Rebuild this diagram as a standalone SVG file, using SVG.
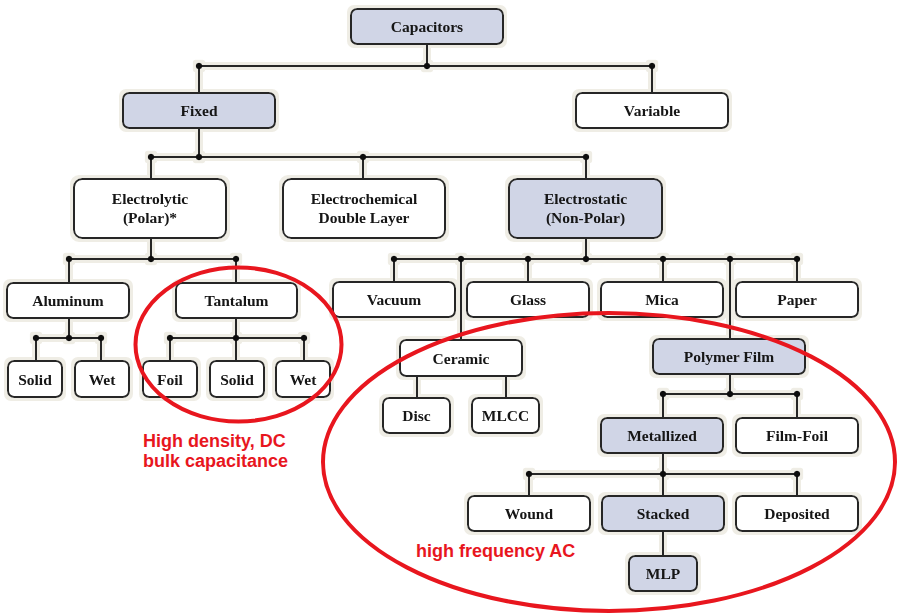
<svg xmlns="http://www.w3.org/2000/svg" width="897" height="614" viewBox="0 0 897 614">
<defs>
<filter id="halo" x="-5%" y="-5%" width="110%" height="110%">
<feMorphology in="SourceAlpha" operator="dilate" radius="3" result="d"/>
<feFlood flood-color="#efede5"/>
<feComposite in2="d" operator="in" result="h"/>
<feMerge><feMergeNode in="h"/><feMergeNode in="SourceGraphic"/></feMerge>
</filter>
</defs>
<style>
.n rect{stroke:#262626;stroke-width:2;fill:#ffffff}
.b rect{fill:#d0d5e6}
.n text{font-family:"Liberation Serif","Times New Roman",serif;font-weight:bold;font-size:15.5px;fill:#141414;text-anchor:middle}
#connectors path{stroke:#262626;stroke-width:2;fill:none}
#connectors circle{fill:#111}
.red{fill:none;stroke:#e8161e;stroke-width:4}
.note{font-family:"Liberation Sans",Arial,sans-serif;font-weight:bold;font-size:18px;fill:#e8161e}
</style>
<rect width="897" height="614" fill="#ffffff"/>
<g filter="url(#halo)">
<g id="connectors">
<path d="M427 44V66M199 66H652M199 66V93M652 66V93"/>
<path d="M199 128V157M151 157H586M151 157V179M363 157V179M586 157V179"/>
<path d="M151 238V259M69 259H236M69 259V283M236 259V283"/>
<path d="M69 318V338M36 338H101M36 338V361M101 338V361"/>
<path d="M236 318V338M170 338H304M170 338V361M236 338V361M304 338V361"/>
<path d="M586 238V259M394 259H797M394 259V282M461 259V340M528 259V282M663 259V282M730 259V339M797 259V282"/>
<path d="M417 376V398M506 376V398"/>
<path d="M730 374V394M663 394H797M663 394V418M797 394V418"/>
<path d="M663 453V496M529 474H797M529 474V496M797 474V496"/>
<path d="M663 531V556"/>
<circle cx="199" cy="66" r="3.2"/><circle cx="427" cy="66" r="3.2"/><circle cx="652" cy="66" r="3.2"/>
<circle cx="151" cy="157" r="3.2"/><circle cx="199" cy="157" r="3.2"/><circle cx="363" cy="157" r="3.2"/><circle cx="586" cy="157" r="3.2"/>
<circle cx="69" cy="259" r="3.2"/><circle cx="151" cy="259" r="3.2"/><circle cx="236" cy="259" r="3.2"/>
<circle cx="36" cy="338" r="3.2"/><circle cx="69" cy="338" r="3.2"/><circle cx="101" cy="338" r="3.2"/>
<circle cx="170" cy="338" r="3.2"/><circle cx="236" cy="338" r="3.2"/><circle cx="304" cy="338" r="3.2"/>
<circle cx="394" cy="259" r="3.2"/><circle cx="461" cy="259" r="3.2"/><circle cx="528" cy="259" r="3.2"/><circle cx="586" cy="259" r="3.2"/><circle cx="663" cy="259" r="3.2"/><circle cx="730" cy="259" r="3.2"/><circle cx="797" cy="259" r="3.2"/>
<circle cx="663" cy="394" r="3.2"/><circle cx="730" cy="394" r="3.2"/><circle cx="797" cy="394" r="3.2"/>
<circle cx="529" cy="474" r="3.2"/><circle cx="663" cy="474" r="3.2"/><circle cx="797" cy="474" r="3.2"/>
</g>
<g id="n-capacitors" class="n b"><rect x="351" y="9" width="152" height="35" rx="6"/><text x="427" y="32">Capacitors</text></g>
<g id="n-fixed" class="n b"><rect x="123" y="93" width="152" height="35" rx="6"/><text x="199" y="116">Fixed</text></g>
<g id="n-variable" class="n"><rect x="576" y="93" width="152" height="35" rx="6"/><text x="652" y="116">Variable</text></g>
<g id="n-electrolytic" class="n"><rect x="74" y="179" width="152" height="59" rx="8"/><text x="150" y="204">Electrolytic</text><text x="150" y="223">(Polar)*</text></g>
<g id="n-edl" class="n"><rect x="283" y="179" width="162" height="59" rx="8"/><text x="364" y="204">Electrochemical</text><text x="364" y="223">Double Layer</text></g>
<g id="n-electrostatic" class="n b"><rect x="509" y="179" width="153" height="59" rx="8"/><text x="585.5" y="204">Electrostatic</text><text x="585.5" y="223">(Non-Polar)</text></g>
<g id="n-aluminum" class="n"><rect x="7" y="283" width="122" height="35" rx="6"/><text x="68" y="306">Aluminum</text></g>
<g id="n-tantalum" class="n"><rect x="176" y="283" width="121" height="35" rx="6"/><text x="236.5" y="306">Tantalum</text></g>
<g id="n-al-solid" class="n"><rect x="8" y="361" width="54" height="36" rx="6"/><text x="35" y="385">Solid</text></g>
<g id="n-al-wet" class="n"><rect x="75" y="361" width="54" height="36" rx="6"/><text x="102" y="385">Wet</text></g>
<g id="n-ta-foil" class="n"><rect x="143" y="361" width="54" height="36" rx="6"/><text x="170" y="385">Foil</text></g>
<g id="n-ta-solid" class="n"><rect x="210" y="361" width="54" height="36" rx="6"/><text x="237" y="385">Solid</text></g>
<g id="n-ta-wet" class="n"><rect x="276" y="361" width="54" height="36" rx="6"/><text x="303" y="385">Wet</text></g>
<g id="n-vacuum" class="n"><rect x="333" y="282" width="122" height="35" rx="6"/><text x="394" y="305">Vacuum</text></g>
<g id="n-glass" class="n"><rect x="467" y="282" width="122" height="35" rx="6"/><text x="528" y="305">Glass</text></g>
<g id="n-mica" class="n"><rect x="601" y="282" width="122" height="35" rx="6"/><text x="662" y="305">Mica</text></g>
<g id="n-paper" class="n"><rect x="736" y="282" width="122" height="35" rx="6"/><text x="797" y="305">Paper</text></g>
<g id="n-ceramic" class="n"><rect x="400" y="340" width="122" height="36" rx="6"/><text x="461" y="364">Ceramic</text></g>
<g id="n-polymer" class="n b"><rect x="653" y="339" width="152" height="35" rx="6"/><text x="729" y="362">Polymer Film</text></g>
<g id="n-disc" class="n"><rect x="383" y="398" width="67" height="35" rx="6"/><text x="416.5" y="421">Disc</text></g>
<g id="n-mlcc" class="n"><rect x="472" y="398" width="67" height="35" rx="6"/><text x="505.5" y="421">MLCC</text></g>
<g id="n-metallized" class="n b"><rect x="601" y="418" width="122" height="35" rx="6"/><text x="662" y="441">Metallized</text></g>
<g id="n-filmfoil" class="n"><rect x="736" y="418" width="122" height="35" rx="6"/><text x="797" y="441">Film-Foil</text></g>
<g id="n-wound" class="n"><rect x="468" y="496" width="122" height="35" rx="6"/><text x="529" y="519">Wound</text></g>
<g id="n-stacked" class="n b"><rect x="602" y="496" width="122" height="35" rx="6"/><text x="663" y="519">Stacked</text></g>
<g id="n-deposited" class="n"><rect x="736" y="496" width="122" height="35" rx="6"/><text x="797" y="519">Deposited</text></g>
<g id="n-mlp" class="n b"><rect x="629" y="556" width="68" height="35" rx="6"/><text x="663" y="579">MLP</text></g>
</g>
<g id="annotations">
<ellipse class="red" cx="238.5" cy="344.5" rx="103" ry="77"/>
<ellipse class="red" cx="609" cy="462" rx="286" ry="149"/>
<text class="note" x="143" y="447">High density, DC</text>
<text class="note" x="143" y="467">bulk capacitance</text>
<text class="note" x="416" y="557">high frequency AC</text>
</g>
</svg>
